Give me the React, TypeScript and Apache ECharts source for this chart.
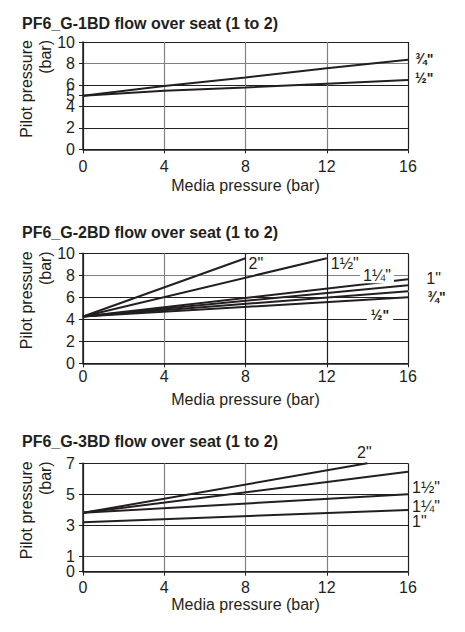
import * as echarts from "echarts";
import { useEffect, useRef } from "react";

const FONT = "'Liberation Sans', Arial, sans-serif";
const INK = "#231f20";
const GREY = "#808184";

const titles = [
  "PF6_G-1BD flow over seat (1 to 2)",
  "PF6_G-2BD flow over seat (1 to 2)",
  "PF6_G-3BD flow over seat (1 to 2)",
];
const xName = "Media pressure (bar)";
const yNameLines = ["Pilot pressure", "(bar)"];
const xTicks = [0, 4, 8, 12, 16];

// PF6_G-1BD
const c1Ticks = [0, 2, 4, 5, 6, 8, 10];
const c1ThreeQuarter = [[0, 5.0], [4, 5.9], [8, 6.7], [12, 7.55], [16, 8.35]];
const c1Half = [[0, 5.0], [4, 5.45], [8, 5.77], [12, 6.1], [16, 6.45]];

// PF6_G-2BD
const c2Ticks = [0, 2, 4, 6, 8, 10];
const c2Two = [[0, 4.25], [8, 9.55]];
const c2OneHalf = [[0, 4.25], [12, 9.55]];
const c2OneQuarter = [[0, 4.25], [16, 7.64]];
const c2One = [[0, 4.25], [16, 7.1]];
const c2ThreeQuarter = [[0, 4.25], [16, 6.55]];
const c2Half = [[0, 4.25], [16, 6.0]];
const c2OneLeader = [[16, 7.1], [16.85, 7.1]];
const c2ThreeQuarterLeader = [[16, 6.55], [16.85, 6.55]];

// PF6_G-3BD
const c3Ticks = [0, 1, 3, 5, 7];
const c3Two = [[0, 3.8], [14, 7.0]];
const c3OneHalf = [[0, 3.8], [16, 6.45]];
const c3OneQuarter = [[0, 3.8], [16, 5.0]];
const c3One = [[0, 3.2], [16, 3.98]];

const grids = [
  { left: 83, width: 325, top: 42, height: 107.3 },
  { left: 83, width: 325, top: 253.3, height: 110 },
  { left: 83, width: 325, top: 463.3, height: 108.4 },
];
const titleY = [23.3, 232.7, 441.7];

const big = { fontSize: 16, fontFamily: FONT, color: INK };
const small = { fontSize: 14, fontWeight: "bold" as const, fontFamily: FONT, color: INK };

function line(idx: number, data: number[][], label: any, extra: any = {}) {
  return {
    type: "line",
    xAxisIndex: idx,
    yAxisIndex: idx,
    clip: false,
    symbol: "circle",
    symbolSize: 0,
    showSymbol: true,
    lineStyle: { color: INK, width: 2 },
    itemStyle: { color: INK },
    silent: true,
    data: data.map((p, i) =>
      i === data.length - 1 && label ? { value: p, label: { show: true, ...label } } : { value: p }
    ),
    ...extra,
  };
}

export default function App() {
  const ref = useRef<HTMLDivElement | null>(null);

  useEffect(() => {
    document.body.style.margin = "0";
    if (!ref.current) return;
    const chart = echarts.init(ref.current, undefined, { renderer: "svg" });

    const xSplit = [
      [INK, GREY, GREY, GREY, INK],
      [INK, GREY, INK, INK, INK],
      [INK, GREY, GREY, GREY, INK],
    ];
    const ySplit = [
      [INK, INK, INK, "transparent", INK, GREY, INK],
      [INK, INK, INK, INK, GREY, INK],
      [INK, "#4d4d4f", INK, INK, INK],
    ];
    const yTicks = [c1Ticks, c2Ticks, c3Ticks];
    // the 0 and 1 labels of the third chart sit too close for ECharts' min-label check,
    // so the 0 is drawn by an overlaid axis
    const yLabels = [c1Ticks, c2Ticks, c3Ticks.slice(1)];
    const xLabelMargin = [9, 5, 8];
    const xNameGap = [28, 28, 25];

    const xAxis = grids.map((_, i) => ({
      type: "value",
      gridIndex: i,
      min: 0,
      max: 16,
      interval: 4,
      axisLine: { show: true, lineStyle: { color: INK, width: 1.5 } },
      axisTick: { show: true, length: 4, lineStyle: { color: INK }, customValues: xTicks },
      axisLabel: {
        ...big,
        margin: xLabelMargin[i],
        customValues: xTicks,
        showMinLabel: true,
        showMaxLabel: true,
      },
      splitLine: { show: true, lineStyle: { color: xSplit[i], width: 1.2 } },
      name: xName,
      nameLocation: "middle",
      nameGap: xNameGap[i],
      nameTextStyle: big,
    }));

    const yAxis: any[] = grids.map((_, i) => ({
      type: "value",
      gridIndex: i,
      position: "left",
      min: 0,
      max: yTicks[i][yTicks[i].length - 1],
      axisLine: { show: true, lineStyle: { color: INK, width: 1.5 } },
      axisTick: { show: true, length: 4, lineStyle: { color: INK }, customValues: yTicks[i] },
      axisLabel: {
        ...big,
        margin: 8,
        customValues: yLabels[i],
        showMinLabel: true,
        showMaxLabel: true,
      },
      splitLine: { show: true, lineStyle: { color: ySplit[i], width: 1.2 } },
    }));
    yAxis.push({
      type: "value",
      gridIndex: 2,
      position: "left",
      offset: 0,
      min: 0,
      max: c3Ticks[c3Ticks.length - 1],
      axisLine: { show: false },
      axisTick: { show: false },
      splitLine: { show: false },
      axisLabel: { ...big, margin: 8, customValues: [c3Ticks[0]], showMinLabel: true },
    });

    const graphic: any[] = [];
    titles.forEach((t, i) => {
      graphic.push({
        type: "text",
        x: 22,
        y: titleY[i],
        style: {
          text: t,
          fontSize: 16,
          fontWeight: "bold",
          fontFamily: FONT,
          fill: INK,
          textVerticalAlign: "middle",
          verticalAlign: "middle",
        },
      });
      yNameLines.forEach((n, j) => {
        graphic.push({
          type: "text",
          x: j === 0 ? 26.7 : 45,
          y: grids[i].top - 2,
          rotation: Math.PI / 2,
          style: {
            text: n,
            fontSize: 16,
            fontFamily: FONT,
            fill: INK,
            textAlign: "right",
            align: "right",
            textVerticalAlign: "middle",
            verticalAlign: "middle",
          },
        });
      });
    });

    const series = [
      line(0, c1ThreeQuarter, { ...small, formatter: "\u00be\"", position: "right", distance: 7, offset: [0, -1] }),
      line(0, c1Half, { ...small, formatter: "\u00bd\"", position: "right", distance: 7, offset: [0, -2] }),

      line(1, c2Two, { ...big, formatter: "2\"", position: "right", distance: 3, offset: [0, 5] }),
      line(1, c2OneHalf, { ...big, formatter: "1\u00bd\"", position: "right", distance: 4, offset: [0, 5] }),
      line(1, c2OneQuarter, {
        ...big,
        formatter: "1\u00bc\"",
        position: "inside",
        offset: [-31, -4],
        backgroundColor: "#fff",
        padding: [0, 3],
      }),
      line(1, c2One, null),
      line(1, c2ThreeQuarter, null),
      line(1, c2Half, {
        ...small,
        formatter: "\u00bd\"",
        position: "inside",
        offset: [-28, 18],
        backgroundColor: "#fff",
        padding: [0, 4],
      }),
      line(1, c2OneLeader, { ...big, formatter: "1\"", position: "right", distance: 1, offset: [0, -7] }, {
        lineStyle: { color: INK, width: 1 },
      }),
      line(1, c2ThreeQuarterLeader, { ...small, formatter: "\u00be\"", position: "right", distance: 2, offset: [0, 6] }, {
        lineStyle: { color: GREY, width: 2 },
      }),

      line(2, c3Two, { ...big, formatter: "2\"", position: "inside", offset: [-3, -11] }),
      line(2, c3OneHalf, { ...big, formatter: "1\u00bd\"", position: "right", distance: 4, offset: [0, 16] }),
      line(2, c3OneQuarter, { ...big, formatter: "1\u00bc\"", position: "right", distance: 4, offset: [0, 12] }),
      line(2, c3One, { ...big, formatter: "1\"", position: "right", distance: 4, offset: [0, 11] }),
    ];

    chart.setOption({
      animation: false,
      backgroundColor: "#fff",
      textStyle: { fontFamily: FONT },
      grid: grids,
      xAxis,
      yAxis,
      graphic,
      series,
    });

    return () => chart.dispose();
  }, []);

  return <div ref={ref} style={{ width: 465, height: 632 }} />;
}
